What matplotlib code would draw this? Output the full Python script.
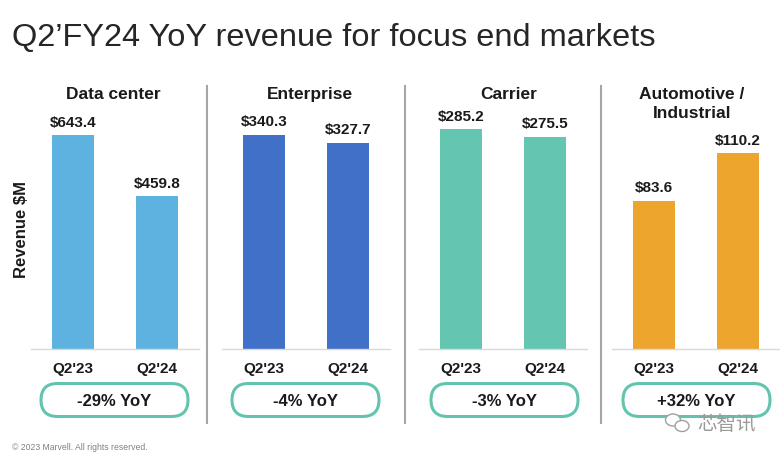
import matplotlib
matplotlib.use("Agg")
import matplotlib.pyplot as plt
from matplotlib.patches import FancyBboxPatch, Ellipse

plt.rcParams['font.family'] = ['Liberation Sans', 'DejaVu Sans']

# data
quarters = ["Q2'23", "Q2'24"]
markets = ["Data center", "Enterprise", "Carrier", "Automotive /\nIndustrial"]
data_center = [643.4, 459.8]
enterprise = [340.3, 327.7]
carrier = [285.2, 275.5]
automotive = [83.6, 110.2]
yoy_labels = ["-29% YoY", "-4% YoY", "-3% YoY", "+32% YoY"]

series = [data_center, enterprise, carrier, automotive]
colors = ["#5db2df", "#4170c9", "#64c5b1", "#eda52d"]
ytops = [690, 364, 297, 129]       # each panel has its own scale
lefts = [31, 222, 419, 612]        # panel positions in px
title_x = [113, 310, 509, 692]
pill_x = [41, 232, 431, 623]

W, H = 780, 458
fig = plt.figure(figsize=(W / 100, H / 100), dpi=100)

# overlay axes in pixel units for the slide decorations
ov = fig.add_axes([0, 0, 1, 1])
ov.set_xlim(0, W)
ov.set_ylim(H, 0)
ov.axis("off")

def fx(x):
    return x / W

def fy(y):
    return 1 - y / H

dark = "#1a1a1a"

ov.text(12, 46, "Q2\u2019FY24 YoY revenue for focus end markets",
        fontsize=23.4, color="#262626", va="baseline", ha="left")

ov.text(22, 230, "Revenue $M", rotation=90, fontsize=12,
        fontweight="bold", color=dark, va="center", ha="center")

base_y = 349
top_y = 120
for i in range(4):
    ax = fig.add_axes([fx(lefts[i]), fy(base_y), 168 / W, (base_y - top_y) / H])
    ax.patch.set_alpha(0)
    vals = series[i]
    ax.bar(range(len(vals)), vals, width=0.51, color=colors[i])
    ax.set_xlim(-0.5, 1.5)
    ax.set_ylim(0, ytops[i])
    ax.set_xticks(range(len(quarters)))
    ax.set_xticklabels(quarters, fontsize=11, fontweight="bold", color=dark)
    ax.tick_params(axis="x", length=0, pad=9)
    ax.set_yticks([])
    for s in ["top", "right", "left"]:
        ax.spines[s].set_visible(False)
    ax.spines["bottom"].set_color("#d9d9d9")
    ax.spines["bottom"].set_linewidth(1)
    for j, v in enumerate(vals):
        ax.annotate("$%.1f" % v, (j, v), xytext=(0, 4), textcoords="offset points",
                    ha="center", va="bottom", fontsize=11, fontweight="bold", color=dark)

    # panel title, line by line
    for k, line in enumerate(markets[i].split("\n")):
        ov.text(title_x[i], 99 + 19 * k, line, fontsize=12.5, fontweight="bold",
                color=dark, ha="center", va="baseline")

    # YoY pill
    pw, ph = 147, 33
    pill = FancyBboxPatch((pill_x[i], 400 - ph / 2), pw, ph,
                          boxstyle="round,pad=0,rounding_size=%f" % (ph / 2),
                          facecolor="white", edgecolor="#62c4ae", linewidth=2.2)
    ov.add_patch(pill)
    ov.text(pill_x[i] + pw / 2, 401, yoy_labels[i], fontsize=12,
            fontweight="bold", color=dark, ha="center", va="center")

# vertical dividers between panels
for x in [207, 405, 601]:
    ov.plot([x, x], [86, 423], color="#a6a6a6", linewidth=1.5)

ov.text(12, 448, "\u00a9 2023 Marvell. All rights reserved.", fontsize=6.2,
        color="#808080", ha="left", va="center")

# watermark
ov.add_patch(Ellipse((673, 420), 15, 12, facecolor="white", edgecolor="#a0a0a0", lw=1))
ov.add_patch(Ellipse((682, 426), 14, 11, facecolor="white", edgecolor="#a0a0a0", lw=1))
ov.text(697, 425, "芯智讯", fontsize=14, color="#9a9a9a", ha="left", va="center",
        family=["Noto Sans CJK SC", "DejaVu Sans"])

fig.savefig("out.png", dpi=100)
